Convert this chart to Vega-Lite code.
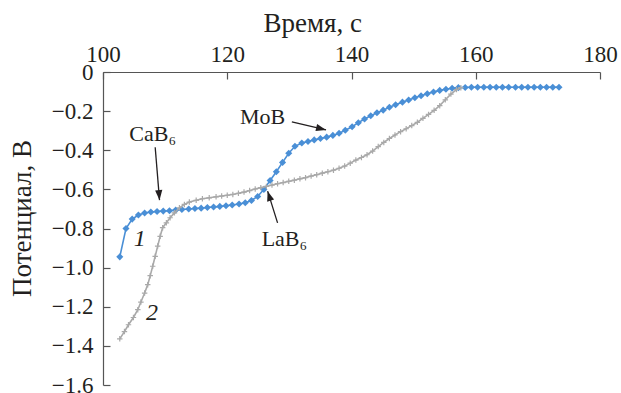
{
  "$schema": "https://vega.github.io/schema/vega-lite/v6.json",
  "autosize": {"type": "none"},
  "padding": {"left": 103, "top": 72, "right": 21, "bottom": 8},
  "width": 497,
  "height": 313,
  "config": {"view": {"stroke": null}, "font": "Liberation Serif", "axis": {"labelOverlap": false, "labelSeparation": 0}},
  "datasets": {
    "curves": [
      {"t": 102.7, "v": -0.945, "s": "1"}, {"t": 103.7, "v": -0.8, "s": "1"}, {"t": 104.7, "v": -0.752, "s": "1"}, {"t": 105.7, "v": -0.731, "s": "1"},
      {"t": 106.7, "v": -0.721, "s": "1"}, {"t": 107.7, "v": -0.716, "s": "1"}, {"t": 108.7, "v": -0.713, "s": "1"}, {"t": 109.7, "v": -0.711, "s": "1"},
      {"t": 110.7, "v": -0.709, "s": "1"}, {"t": 111.7, "v": -0.706, "s": "1"}, {"t": 112.7, "v": -0.703, "s": "1"}, {"t": 113.8, "v": -0.7, "s": "1"},
      {"t": 114.8, "v": -0.698, "s": "1"}, {"t": 115.8, "v": -0.696, "s": "1"}, {"t": 116.8, "v": -0.693, "s": "1"}, {"t": 117.8, "v": -0.69, "s": "1"},
      {"t": 118.8, "v": -0.687, "s": "1"}, {"t": 119.8, "v": -0.684, "s": "1"}, {"t": 120.8, "v": -0.68, "s": "1"}, {"t": 121.9, "v": -0.675, "s": "1"},
      {"t": 122.9, "v": -0.668, "s": "1"}, {"t": 123.9, "v": -0.657, "s": "1"}, {"t": 124.9, "v": -0.636, "s": "1"}, {"t": 125.9, "v": -0.6, "s": "1"},
      {"t": 126.9, "v": -0.555, "s": "1"}, {"t": 127.9, "v": -0.51, "s": "1"}, {"t": 128.9, "v": -0.462, "s": "1"}, {"t": 129.9, "v": -0.415, "s": "1"},
      {"t": 130.9, "v": -0.38, "s": "1"}, {"t": 132.0, "v": -0.363, "s": "1"}, {"t": 133.0, "v": -0.355, "s": "1"}, {"t": 134.0, "v": -0.347, "s": "1"},
      {"t": 135.0, "v": -0.34, "s": "1"}, {"t": 136.0, "v": -0.333, "s": "1"}, {"t": 137.0, "v": -0.324, "s": "1"}, {"t": 138.0, "v": -0.313, "s": "1"},
      {"t": 139.0, "v": -0.298, "s": "1"}, {"t": 140.1, "v": -0.28, "s": "1"}, {"t": 141.1, "v": -0.259, "s": "1"}, {"t": 142.1, "v": -0.24, "s": "1"},
      {"t": 143.1, "v": -0.224, "s": "1"}, {"t": 144.1, "v": -0.208, "s": "1"}, {"t": 145.1, "v": -0.195, "s": "1"}, {"t": 146.1, "v": -0.18, "s": "1"},
      {"t": 147.1, "v": -0.167, "s": "1"}, {"t": 148.2, "v": -0.154, "s": "1"}, {"t": 149.2, "v": -0.143, "s": "1"}, {"t": 150.2, "v": -0.132, "s": "1"},
      {"t": 151.2, "v": -0.121, "s": "1"}, {"t": 152.2, "v": -0.111, "s": "1"}, {"t": 153.2, "v": -0.102, "s": "1"}, {"t": 154.2, "v": -0.094, "s": "1"},
      {"t": 155.2, "v": -0.088, "s": "1"}, {"t": 156.2, "v": -0.083, "s": "1"}, {"t": 157.2, "v": -0.08, "s": "1"}, {"t": 158.3, "v": -0.079, "s": "1"},
      {"t": 159.3, "v": -0.078, "s": "1"}, {"t": 160.3, "v": -0.078, "s": "1"}, {"t": 161.3, "v": -0.078, "s": "1"}, {"t": 162.3, "v": -0.078, "s": "1"},
      {"t": 163.3, "v": -0.078, "s": "1"}, {"t": 164.3, "v": -0.078, "s": "1"}, {"t": 165.3, "v": -0.078, "s": "1"}, {"t": 166.4, "v": -0.078, "s": "1"},
      {"t": 167.4, "v": -0.078, "s": "1"}, {"t": 168.4, "v": -0.078, "s": "1"}, {"t": 169.4, "v": -0.078, "s": "1"}, {"t": 170.4, "v": -0.078, "s": "1"},
      {"t": 171.4, "v": -0.078, "s": "1"}, {"t": 172.4, "v": -0.078, "s": "1"}, {"t": 173.4, "v": -0.078, "s": "1"},
      {"t": 102.7, "v": -1.364, "s": "2"}, {"t": 103.45, "v": -1.327, "s": "2"}, {"t": 104.1, "v": -1.292, "s": "2"}, {"t": 104.9, "v": -1.255, "s": "2"},
      {"t": 105.6, "v": -1.215, "s": "2"}, {"t": 106.1, "v": -1.176, "s": "2"}, {"t": 106.7, "v": -1.13, "s": "2"}, {"t": 107.2, "v": -1.087, "s": "2"},
      {"t": 107.6, "v": -1.041, "s": "2"}, {"t": 108.0, "v": -0.993, "s": "2"}, {"t": 108.4, "v": -0.942, "s": "2"}, {"t": 108.8, "v": -0.89, "s": "2"},
      {"t": 109.2, "v": -0.84, "s": "2"}, {"t": 109.6, "v": -0.796, "s": "2"}, {"t": 110.2, "v": -0.771, "s": "2"}, {"t": 110.8, "v": -0.745, "s": "2"},
      {"t": 111.5, "v": -0.72, "s": "2"}, {"t": 112.3, "v": -0.694, "s": "2"}, {"t": 113.1, "v": -0.677, "s": "2"}, {"t": 113.9, "v": -0.665, "s": "2"},
      {"t": 115.0, "v": -0.656, "s": "2"}, {"t": 116.0, "v": -0.648, "s": "2"}, {"t": 117.1, "v": -0.643, "s": "2"}, {"t": 118.2, "v": -0.638, "s": "2"},
      {"t": 119.1, "v": -0.634, "s": "2"}, {"t": 120.0, "v": -0.63, "s": "2"}, {"t": 120.9, "v": -0.626, "s": "2"}, {"t": 121.8, "v": -0.62, "s": "2"},
      {"t": 122.7, "v": -0.614, "s": "2"}, {"t": 123.6, "v": -0.606, "s": "2"}, {"t": 124.5, "v": -0.598, "s": "2"}, {"t": 125.4, "v": -0.591, "s": "2"},
      {"t": 126.3, "v": -0.585, "s": "2"}, {"t": 127.2, "v": -0.578, "s": "2"}, {"t": 128.1, "v": -0.571, "s": "2"}, {"t": 129.0, "v": -0.565, "s": "2"},
      {"t": 129.9, "v": -0.559, "s": "2"}, {"t": 130.8, "v": -0.553, "s": "2"}, {"t": 131.7, "v": -0.546, "s": "2"}, {"t": 132.6, "v": -0.54, "s": "2"},
      {"t": 133.5, "v": -0.532, "s": "2"}, {"t": 134.4, "v": -0.525, "s": "2"}, {"t": 135.3, "v": -0.517, "s": "2"}, {"t": 136.2, "v": -0.51, "s": "2"},
      {"t": 137.1, "v": -0.502, "s": "2"}, {"t": 138.0, "v": -0.492, "s": "2"}, {"t": 138.9, "v": -0.481, "s": "2"}, {"t": 139.8, "v": -0.466, "s": "2"},
      {"t": 140.7, "v": -0.45, "s": "2"}, {"t": 141.6, "v": -0.437, "s": "2"}, {"t": 142.5, "v": -0.423, "s": "2"}, {"t": 143.4, "v": -0.404, "s": "2"},
      {"t": 144.3, "v": -0.381, "s": "2"}, {"t": 145.2, "v": -0.36, "s": "2"}, {"t": 146.1, "v": -0.34, "s": "2"}, {"t": 147.0, "v": -0.322, "s": "2"},
      {"t": 147.9, "v": -0.305, "s": "2"}, {"t": 148.8, "v": -0.29, "s": "2"}, {"t": 149.7, "v": -0.274, "s": "2"}, {"t": 150.6, "v": -0.257, "s": "2"},
      {"t": 151.5, "v": -0.237, "s": "2"}, {"t": 152.4, "v": -0.217, "s": "2"}, {"t": 153.3, "v": -0.196, "s": "2"}, {"t": 154.2, "v": -0.172, "s": "2"},
      {"t": 155.1, "v": -0.142, "s": "2"}, {"t": 156.0, "v": -0.113, "s": "2"}, {"t": 156.9, "v": -0.09, "s": "2"}, {"t": 157.6, "v": -0.08, "s": "2"}
    ],
    "arrows": [
      {"name": "CaB6", "t1": 108.4, "v1": -0.385, "t2": 109.1, "v2": -0.655},
      {"name": "MoB", "t1": 130.4, "v1": -0.255, "t2": 135.9, "v2": -0.296},
      {"name": "LaB6", "t1": 128.1, "v1": -0.771, "t2": 126.5, "v2": -0.609}
    ],
    "names": [
      {"label": "CaB₆", "t": 108.0, "v": -0.318},
      {"label": "MoB", "t": 125.7, "v": -0.232},
      {"label": "LaB₆", "t": 129.2, "v": -0.853}
    ],
    "numbers": [
      {"label": "1", "t": 105.9, "v": -0.856},
      {"label": "2", "t": 107.9, "v": -1.232}
    ]
  },
  "layer": [
    {
      "data": {"name": "curves"},
      "transform": [{"filter": "datum.s == '1'"}],
      "mark": {"type": "line", "color": "#4a8fd6", "strokeWidth": 1.6},
      "encoding": {
        "x": {"field": "t", "type": "quantitative",
          "scale": {"domain": [100, 180], "nice": false, "zero": false},
          "axis": {"orient": "top", "values": [100, 120, 140, 160, 180], "tickCount": 10, "grid": false, "ticks": true,
            "title": "Время, с", "titleFont": "Liberation Serif", "titleFontSize": 27, "titleFontWeight": "normal", "titleColor": "#231f20",
            "titleAlign": "left", "titleBaseline": "alphabetic", "titleX": 160, "titleY": -41,
            "labelFont": "Liberation Serif", "labelFontSize": 23, "labelColor": "#231f20", "labelPadding": 13, "labelOverlap": false,
            "tickSize": -7, "tickColor": "#555555", "domainColor": "#555555", "domainWidth": 1.2, "tickWidth": 1.2, "labelFlush": false}},
        "y": {"field": "v", "type": "quantitative",
          "scale": {"domain": [-1.6, 0], "nice": false, "zero": false},
          "axis": {"orient": "left", "values": [0, -0.2, -0.4, -0.6, -0.8, -1.0, -1.2, -1.4, -1.6], "tickCount": 20, "grid": false, "ticks": true,
            "labelExpr": "datum.value == 0 ? '0' : format(datum.value, '.1f')", "labelOverlap": false,
            "title": "Потенциал, В", "titleFont": "Liberation Serif", "titleFontSize": 27, "titleFontWeight": "normal", "titleColor": "#231f20",
            "titleBaseline": "alphabetic", "titleX": -73, "titleY": 146, "titleAngle": -90, "titleAlign": "center",
            "labelFont": "Liberation Serif", "labelFontSize": 23, "labelColor": "#231f20", "labelPadding": 17,
            "tickSize": -7, "tickColor": "#555555", "domainColor": "#555555", "domainWidth": 1.2, "tickWidth": 1.2, "labelFlush": false}}
      }
    },
    {
      "data": {"name": "curves"},
      "transform": [{"filter": "datum.s == '1'"}],
      "mark": {"type": "point", "shape": "diamond", "filled": true, "color": "#4a8fd6", "size": 50, "opacity": 1},
      "encoding": {"x": {"field": "t", "type": "quantitative"}, "y": {"field": "v", "type": "quantitative"}}
    },
    {
      "data": {"name": "curves"},
      "transform": [{"filter": "datum.s == '2'"}],
      "mark": {"type": "line", "color": "#a9a9a9", "strokeWidth": 1.6},
      "encoding": {"x": {"field": "t", "type": "quantitative"}, "y": {"field": "v", "type": "quantitative"}}
    },
    {
      "data": {"name": "curves"},
      "transform": [{"filter": "datum.s == '2'"}],
      "mark": {"type": "point", "shape": "M-1,0H1M0,-1V1", "filled": false, "stroke": "#a9a9a9", "strokeWidth": 1.2, "size": 30, "opacity": 1},
      "encoding": {"x": {"field": "t", "type": "quantitative"}, "y": {"field": "v", "type": "quantitative"}}
    },
    {
      "data": {"name": "arrows"},
      "mark": {"type": "rule", "color": "#231f20", "strokeWidth": 1.3},
      "encoding": {
        "x": {"field": "t1", "type": "quantitative"}, "y": {"field": "v1", "type": "quantitative"},
        "x2": {"field": "t2"}, "y2": {"field": "v2"}
      }
    },
    {
      "data": {"name": "arrows"},
      "transform": [{"calculate": "atan2((datum.t2 - datum.t1) * 6.21, (datum.v2 - datum.v1) * 196) * 180 / PI", "as": "ang"}],
      "mark": {"type": "point", "shape": "M0,0L0.36,1L-0.36,1Z", "filled": true, "color": "#231f20", "size": 400, "opacity": 1},
      "encoding": {
        "x": {"field": "t2", "type": "quantitative"}, "y": {"field": "v2", "type": "quantitative"},
        "angle": {"field": "ang", "type": "quantitative", "scale": null}
      }
    },
    {
      "data": {"name": "names"},
      "mark": {"type": "text", "font": "Liberation Serif", "fontSize": 22, "color": "#231f20", "align": "center", "baseline": "middle"},
      "encoding": {"x": {"field": "t", "type": "quantitative"}, "y": {"field": "v", "type": "quantitative"}, "text": {"field": "label"}}
    },
    {
      "data": {"name": "numbers"},
      "mark": {"type": "text", "font": "Liberation Serif", "fontSize": 24, "fontStyle": "italic", "color": "#231f20", "align": "center", "baseline": "middle"},
      "encoding": {"x": {"field": "t", "type": "quantitative"}, "y": {"field": "v", "type": "quantitative"}, "text": {"field": "label"}}
    }
  ]
}
